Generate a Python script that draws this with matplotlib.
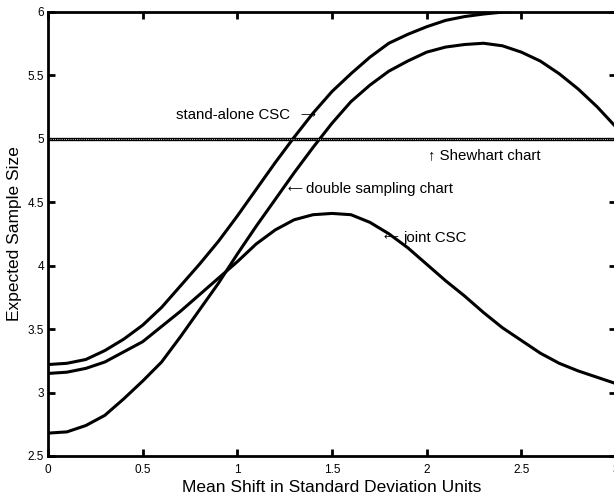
import matplotlib
matplotlib.use('Agg')
import matplotlib.pyplot as plt
import numpy as np

plt.rcParams['font.family'] = ['Liberation Sans', 'DejaVu Sans']

# 数据
shift = [0.0, 0.1, 0.2, 0.3, 0.4, 0.5, 0.6, 0.7, 0.8, 0.9, 1.0,
         1.1, 1.2, 1.3, 1.4, 1.5, 1.6, 1.7, 1.8, 1.9, 2.0,
         2.1, 2.2, 2.3, 2.4, 2.5, 2.6, 2.7, 2.8, 2.9, 3.0]

stand_alone = [3.22, 3.23, 3.26, 3.33, 3.42, 3.53, 3.67, 3.84, 4.01, 4.19, 4.39,
               4.60, 4.81, 5.01, 5.20, 5.37, 5.51, 5.64, 5.75, 5.82, 5.88,
               5.93, 5.96, 5.98, 5.995, 6.0, 6.0, 6.0, 6.0, 6.0, 6.0]

double_sampling = [2.68, 2.69, 2.74, 2.82, 2.95, 3.09, 3.24, 3.44, 3.65, 3.86, 4.09,
                   4.31, 4.52, 4.73, 4.93, 5.12, 5.29, 5.42, 5.53, 5.61, 5.68,
                   5.72, 5.74, 5.75, 5.73, 5.68, 5.61, 5.51, 5.39, 5.25, 5.09]

joint = [3.15, 3.16, 3.19, 3.24, 3.32, 3.40, 3.52, 3.64, 3.77, 3.90, 4.03,
         4.17, 4.28, 4.36, 4.40, 4.41, 4.40, 4.34, 4.25, 4.14, 4.01,
         3.88, 3.76, 3.63, 3.51, 3.41, 3.31, 3.23, 3.17, 3.12, 3.07]

shewhart = 5.0

xticks = [0, 0.5, 1, 1.5, 2, 2.5, 3]
xtick_labels = ['0', '0.5', '1', '1.5', '2', '2.5', '3']
yticks = [2.5, 3, 3.5, 4, 4.5, 5, 5.5, 6]
ytick_labels = ['2.5', '3', '3.5', '4', '4.5', '5', '5.5', '6']


def plot():
    fig = plt.figure(figsize=(6.14, 4.99), dpi=100)
    ax = fig.add_axes([48 / 614, 43 / 499, 568 / 614, 444.5 / 499])

    # 曲线
    ax.plot(shift, stand_alone, 'k-', lw=2.2)
    ax.plot(shift, double_sampling, 'k-', lw=2.2)
    ax.plot(shift, joint, 'k-', lw=2.2)
    ax.plot([shift[0], shift[-1]], [shewhart, shewhart], 'k-', lw=2.4)
    ax.plot([shift[0], shift[-1]], [shewhart, shewhart], color='white', ls=':', lw=0.6)

    ax.set_xlim(0, 3)
    ax.set_ylim(2.5, 6)
    ax.set_xticks(xticks)
    ax.set_xticklabels(xtick_labels)
    ax.set_yticks(yticks)
    ax.set_yticklabels(ytick_labels)
    ax.tick_params(direction='in', length=5, width=2, labelsize=8.5,
                   top=True, right=True)
    ax.tick_params(axis='x', pad=6)
    ax.tick_params(axis='y', pad=3)
    for s in ax.spines.values():
        s.set_linewidth(2)

    ax.set_xlabel('Mean Shift in Standard Deviation Units', fontsize=12.5, labelpad=3)
    ax.set_ylabel('Expected Sample Size', fontsize=12.5, labelpad=4)

    # 标注
    fs = 10.8
    afs = 7.5
    ax.text(0.676, 5.185, 'stand-alone CSC', fontsize=fs, va='center')
    ax.text(1.331, 5.185, '\u27f6', fontsize=afs, va='center', family='DejaVu Sans')
    ax.text(2.007, 4.87, '\u2191 Shewhart chart', fontsize=fs, va='center')
    ax.text(1.263, 4.60, '\u27f5', fontsize=afs, va='center', family='DejaVu Sans')
    ax.text(1.363, 4.60, 'double sampling chart', fontsize=fs, va='center')
    ax.text(1.77, 4.22, '\u27f5', fontsize=afs, va='center', family='DejaVu Sans')
    ax.text(1.875, 4.22, 'joint CSC', fontsize=fs, va='center')

    fig.savefig('out.png', dpi=100)


if __name__ == '__main__':
    plot()
